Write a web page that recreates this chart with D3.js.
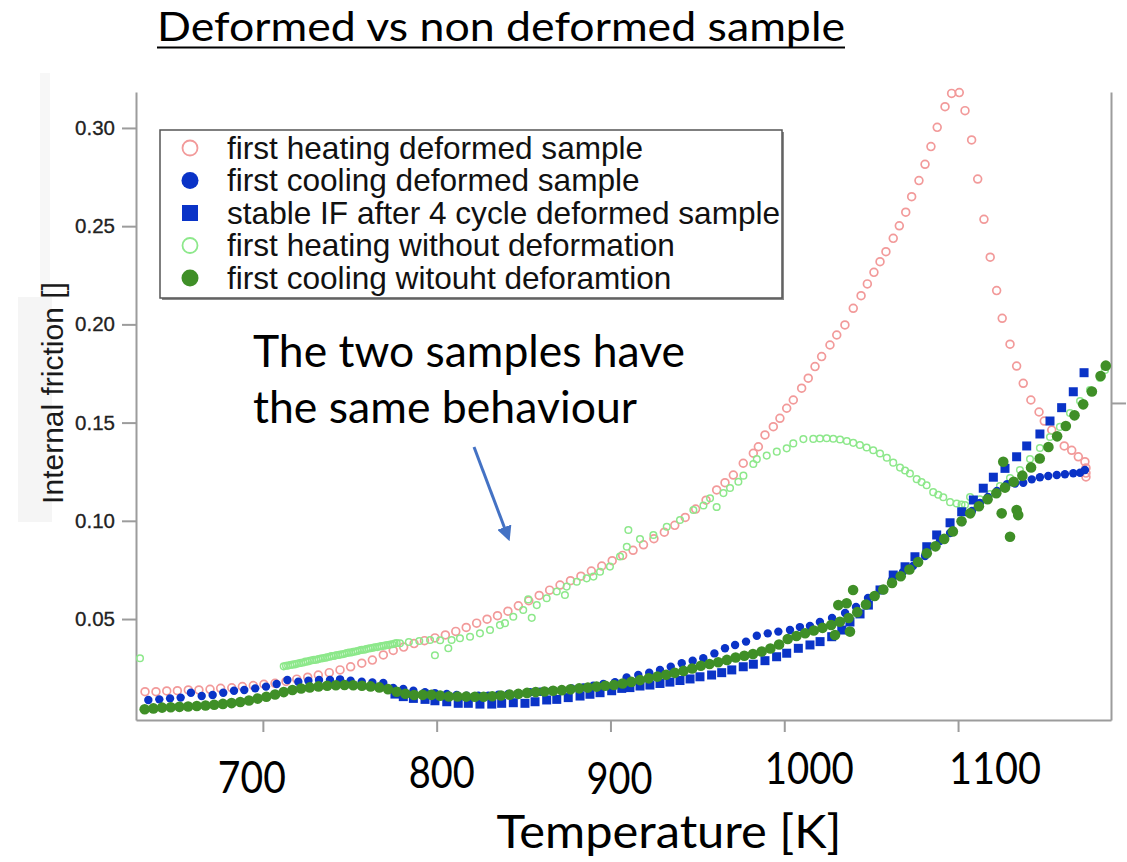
<!DOCTYPE html>
<html><head><meta charset="utf-8">
<script src="https://cdn.jsdelivr.net/npm/d3@7"></script>
<style>body{margin:0;background:#fff}svg{display:block}</style>
</head><body><svg id="c" width="1127" height="862"></svg>
<script>
// ---------------- data ----------------
const tempTicks = [700, 800, 900, 1000, 1100];
const frictionTicks = [0.05, 0.10, 0.15, 0.20, 0.25, 0.30];
const rightTicks = [0.16];
const legendLabels = [
  "first heating deformed sample",
  "first cooling deformed sample",
  "stable IF after 4 cycle deformed sample",
  "first heating without deformation",
  "first cooling witouht deforamtion"
];

// first heating, deformed sample (open red circles)
const heatDefT = [632.2,638.5,644.7,650.8,657.1,663.2,669.6,675.7,682.1,688.2,694.5,700.6,707.0,713.3,719.5,725.8,731.9,738.2,744.4,750.5,756.9,763.0,769.3,
  775,781,787,793,799,805,811,817,823,829,835,841,847,853,859,865,871,877,883,889,895,901,907,913,919,925,931,937,943,949,955,
  961.1,965.9,970.7,976.4,982.2,985.1,988.9,993.7,997.5,1001.4,1005.2,1010.0,1013.8,1017.7,1021.5,1026.3,1030.2,1034.9,1039.7,
  1044.2,1047.8,1051.6,1055.1,1058.5,1062.7,1066.2,1069.9,1073.3,1077.5,1081.0,1084.4,1088.0,1092.5,1096.3,1100.7,
  1104.0,1107.8,1111.3,1114.9,1118.5,1122.2,1125.4,1129.9,1133.7,1137.5,1141.9,1146.6,1149.6,1153.9,1161.1,1165.4,1169.2,1173.0,1173.6,1173.6,1173.6];
const heatDefIF = [0.0130,0.0130,0.0134,0.0135,0.0139,0.0139,0.0142,0.0147,0.0150,0.0156,0.0161,0.0168,0.0173,0.0182,0.0194,0.0204,0.0215,0.0227,0.0241,0.0257,0.0275,0.0291,0.0317,
  0.0340,0.0357,0.0375,0.0390,0.0404,0.0419,0.0437,0.0457,0.0479,0.0499,0.0517,0.0540,0.0567,0.0593,0.0620,0.0647,0.0673,0.0695,0.0718,0.0744,0.0770,0.0797,0.0824,0.0850,0.0878,0.0909,0.0942,0.0977,0.1017,0.1060,0.1105,
  0.1157,0.1194,0.1233,0.1293,0.1344,0.1377,0.1437,0.1479,0.1522,0.1573,0.1615,0.1675,0.1726,0.1785,0.1836,0.1895,0.1946,0.1997,0.2082,
  0.2146,0.2206,0.2265,0.2319,0.2370,0.2438,0.2502,0.2571,0.2650,0.2732,0.2815,0.2905,0.3003,0.3108,0.3176,0.3180,
  0.3088,0.2939,0.2740,0.2535,0.2342,0.2172,0.2031,0.1899,0.1788,0.1700,0.1615,0.1554,0.1508,0.1462,0.1381,0.1359,0.1326,0.1301,0.1269,0.1243,0.1223];

// first cooling, deformed sample (filled blue circles)
const coolDefT = [634.1,640.4,646.6,652.7,658.6,664.8,671.1,677.2,683.4,689.3,695.6,701.8,707.9,714.1,720.4,726.2,732.3,738.6,744.4,750.5,756.9,763.0,769.3,
  775.0,780.8,786.6,793.3,799.0,805.8,811.5,817.3,824.0,829.7,835.5,841.2,847.0,853.7,859.5,866.2,872.0,877.7,884.4,890.1,895.9,902.6,909.3,
  916.0,922.3,928.5,934.7,941.0,947.3,953.4,959.8,965.9,971.7,978.0,984.2,990.5,996.6,
  1003.3,1009.0,1014.8,1020.5,1027.5,1035.0,1041.3,1048.2,1055.1,1062.0,1068.3,1074.1,1081.0,1089.6,1095.4,1102.3,1108.0,1112.6,1117.2,1122.4,1128.2,1132.8,1137.5,1142.4,1147.1,1151.9,1156.8,1161.5,1166.3,1170.2,1173.0];
const coolDefIF = [0.0088,0.0091,0.0096,0.0100,0.0125,0.0108,0.0113,0.0125,0.0135,0.0139,0.0147,0.0156,0.0169,0.0190,0.0181,0.0186,0.0190,0.0190,0.0193,0.0186,0.0181,0.0177,0.0174,
  0.0149,0.0144,0.0135,0.0127,0.0123,0.0118,0.0113,0.0110,0.0110,0.0110,0.0115,0.0118,0.0122,0.0127,0.0130,0.0135,0.0140,0.0147,0.0152,0.0160,0.0169,0.0178,0.0202,
  0.0215,0.0227,0.0241,0.0257,0.0275,0.0288,0.0300,0.0325,0.0351,0.0368,0.0385,0.0415,0.0427,0.0436,
  0.0444,0.0459,0.0465,0.0485,0.0505,0.0531,0.0561,0.0607,0.0648,0.0699,0.0739,0.0770,0.0821,0.0897,0.0938,0.0994,0.1050,0.1091,0.1121,0.1152,0.1187,0.1190,0.1194,0.1211,0.1222,0.1228,0.1233,0.1237,0.1242,0.1245,0.1259];

// stable IF after 4 cycles, deformed sample (blue squares)
const stableT = [776.0,780.8,786.6,793.3,799.0,805.8,812.4,818.2,824.9,831.7,837.4,844.1,850.8,856.6,863.3,869.1,875.7,882.5,888.2,894.0,900.7,906.5,911.2,917.0,922.7,928.5,934.2,940.0,945.8,951.5,958.2,964.0,969.8,976.4,982.2,988.9,995.6,1001.4,1008.1,1014.8,1020.6,1027.3,1033.1,1037.8,1043.6,1048.4,1055.1,1062.7,1069.5,1075.2,1082.0,1087.7,1095.4,1102.1,1108.8,1114.5,1120.3,1127.0,1133.7,1139.5,1147.1,1152.9,1159.6,1166.3,1172.5];
const stableIF = [0.0118,0.0105,0.0096,0.0091,0.0084,0.0079,0.0071,0.0071,0.0067,0.0067,0.0071,0.0074,0.0071,0.0079,0.0088,0.0091,0.0100,0.0108,0.0117,0.0125,0.0135,0.0147,0.0151,0.0159,0.0164,0.0172,0.0179,0.0187,0.0195,0.0206,0.0215,0.0227,0.0241,0.0257,0.0270,0.0288,0.0308,0.0326,0.0351,0.0368,0.0385,0.0410,0.0444,0.0485,0.0526,0.0571,0.0648,0.0724,0.0766,0.0817,0.0868,0.0928,0.0990,0.1046,0.1106,0.1166,0.1222,0.1267,0.1326,0.1381,0.1442,0.1508,0.1576,0.1657,0.1754];

// first heating without deformation (open light green circles)
const heatRefT = [629.3,
  712.0,713.3,714.5,715.8,717.0,718.3,719.5,720.8,722.0,723.3,724.5,725.8,727.0,728.3,729.5,730.8,732.0,733.3,734.5,735.8,737.0,738.3,739.5,740.8,742.0,743.3,744.5,745.8,747.0,748.3,749.5,750.8,752.0,753.3,754.5,755.8,757.0,758.3,759.5,760.8,762.0,763.3,764.5,765.8,767.0,768.3,769.5,770.8,772.0,773.3,774.5,775.8,777.0,
  778.9,784,790,796.2,799.0,802,806.7,808.6,813.4,819.2,824.9,830.7,836.4,839.3,844.1,849.8,852.7,854.7,857.6,863.3,869.1,873.8,874.8,880.6,886.3,890.2,894.0,899.7,905.5,909.4,910.3,
  917.0,924.7,932.4,940.0,947.7,953.5,957.3,961.1,965.0,968.8,973.6,976.5,982.2,984.2,989.9,995.7,1001.4,1005.2,1011.0,1016.7,1020.5,1024.4,1028.2,1032.1,1036.0,1039.7,1043.5,1047.4,1051.2,1055.1,1059.0,1062.7,1066.6,1069.5,1072.3,1076.2,1079.0,1081.9,1085.7,1088.6,1091.5,1095.4,1099.2,1102.0,1104.0,
  1106.9,1112.6,1118.4,1124.1,1129.9,1135.6,1141.4,1147.1,1152.9,1158.6,1164.4,1170.2,1175.9,1181.7,1184.6];
const heatRefIF = [0.0300,
  0.0259,0.0262,0.0263,0.0266,0.0268,0.0269,0.0272,0.0275,0.0277,0.0279,0.0283,0.0284,0.0287,0.0290,0.0292,0.0293,0.0296,0.0299,0.0300,0.0303,0.0305,0.0308,0.0311,0.0312,0.0315,0.0317,0.0319,0.0321,0.0323,0.0327,0.0329,0.0330,0.0333,0.0335,0.0337,0.0341,0.0343,0.0344,0.0347,0.0350,0.0351,0.0354,0.0356,0.0357,0.0360,0.0362,0.0364,0.0366,0.0368,0.0370,0.0372,0.0375,0.0378,
  0.0377,0.0383,0.0388,0.0393,0.0316,0.0392,0.0351,0.0393,0.0402,0.0410,0.0427,0.0444,0.0469,0.0479,0.0512,0.0546,0.0600,0.0506,0.0571,0.0606,0.0640,0.0622,0.0665,0.0690,0.0707,0.0716,0.0741,0.0767,0.0818,0.0868,0.0953,
  0.0907,0.0928,0.0970,0.1004,0.1055,0.1078,0.1115,0.1070,0.1141,0.1167,0.1199,0.1230,0.1289,0.1314,0.1332,0.1352,0.1369,0.1394,0.1416,0.1417,0.1419,0.1420,0.1418,0.1414,0.1406,0.1397,0.1386,0.1373,0.1359,0.1343,0.1321,0.1296,0.1271,0.1256,0.1241,0.1212,0.1197,0.1181,0.1146,0.1133,0.1120,0.1095,0.1088,0.1083,0.1080,
  0.1121,0.1109,0.1136,0.1177,0.1218,0.1259,0.1315,0.1371,0.1427,0.1478,0.1549,0.1610,0.1666,0.1727,0.1768];

// first cooling without deformation (filled dark green circles)
const coolRefT = [632,637,642,647,652,657,662,667,672,677,682,687,692,697,702,707,712,717,722,727,732,737,742,747,752,757,762,767,772,777,782,787,792,797,802,807,812,817,822,827,832,837,842,847,852,857,862,867,872,877,882,887,892,897,902,907,912,917,922,927,932,937,942,947,952,957,962,967,972,977,982,987,992,997,1002,1007,1012,1017,1022,1027,1032,1037,1042,1047,1052,1057,1062,1067,1072,1077,1082,1087,1092,1097,1102,1107,1112,1117,1122,1127,1132,1137,1142,1147,1152,1157,1162,1167,1172,1177,1182,1185,
  1029.2,1031.1,1035.9,1037.8,1039.6,1125.1,1126.0,1129.9,1133.7,1134.6];
const coolRefIF = [0.0041,0.0045,0.0049,0.0051,0.0053,0.0055,0.0057,0.0060,0.0064,0.0068,0.0072,0.0078,0.0085,0.0095,0.0104,0.0116,0.0128,0.0139,0.0146,0.0152,0.0157,0.0160,0.0163,0.0164,0.0163,0.0160,0.0157,0.0152,0.0143,0.0130,0.0120,0.0113,0.0114,0.0114,0.0110,0.0106,0.0106,0.0105,0.0104,0.0104,0.0107,0.0111,0.0115,0.0119,0.0124,0.0128,0.0131,0.0135,0.0138,0.0142,0.0147,0.0151,0.0156,0.0160,0.0164,0.0172,0.0180,0.0189,0.0198,0.0207,0.0216,0.0226,0.0236,0.0248,0.0262,0.0271,0.0280,0.0292,0.0304,0.0313,0.0322,0.0335,0.0350,0.0370,0.0398,0.0414,0.0428,0.0442,0.0455,0.0470,0.0486,0.0505,0.0535,0.0574,0.0617,0.0650,0.0684,0.0718,0.0752,0.0790,0.0835,0.0870,0.0908,0.0946,0.0998,0.1038,0.1074,0.1110,0.1140,0.1169,0.1199,0.1230,0.1272,0.1317,0.1376,0.1430,0.1483,0.1537,0.1593,0.1658,0.1737,0.1790,
  0.0419,0.0571,0.0580,0.0436,0.0648,0.1038,0.1301,0.0919,0.1055,0.1029];

// ---------------- chart ----------------
const svg = d3.select('#c');
const x = d3.scaleLinear().domain([627, 1188]).range([136, 1111]);
const y = d3.scaleLinear().domain([-0.0014, 0.3183]).range([720, 92]);
const zip = (a, b) => a.map((t, i) => [t, b[i]]);

const colors = {red: '#f29a9a', blue: '#0a33c7', light: '#8de88b', dark: '#3f8f27'};

// faint label backgrounds
svg.append('rect').attr('x', 40).attr('y', 73).attr('width', 10).attr('height', 225).attr('fill', '#f7f7f7');
svg.append('rect').attr('x', 18).attr('y', 297).attr('width', 34).attr('height', 225).attr('fill', '#f5f5f5');

// axes
const axisColor = '#9c9c9c';
const gx = svg.append('g').attr('transform', 'translate(0,720)')
  .call(d3.axisBottom(x).tickValues(tempTicks).tickSize(12).tickSizeOuter(0).tickFormat(''));
const gy = svg.append('g').attr('transform', 'translate(136,0)')
  .call(d3.axisLeft(y).tickValues(frictionTicks).tickSize(14).tickPadding(7).tickSizeOuter(0).tickFormat(d3.format('.2f')));
const gr = svg.append('g').attr('transform', 'translate(1111,0)')
  .call(d3.axisRight(y).tickValues(rightTicks).tickSize(15).tickSizeOuter(0).tickFormat(''));
[gx, gy, gr].forEach(g => {
  g.select('.domain').attr('stroke', axisColor).attr('stroke-width', 2);
  g.selectAll('.tick line').attr('stroke', axisColor).attr('stroke-width', 2);
});
gy.selectAll('.tick text').attr('font-family', 'Liberation Sans, Arial, sans-serif')
  .attr('font-size', 20.5).attr('fill', '#222').attr('stroke', '#222').attr('stroke-width', 0.3);

// x tick labels (placed as in the slide overlay)
const xLabelDx = [-11, 5, 9, 25, 37];
const xLabelY = [793, 788, 794, 784, 784];
const xLabelW = [68, 66, 66, 89, 92];
svg.append('g').selectAll('text').data(tempTicks).join('text')
  .attr('x', (d, i) => x(d) + xLabelDx[i]).attr('y', (d, i) => xLabelY[i])
  .attr('text-anchor', 'middle').attr('font-family', 'Lato, sans-serif').attr('font-size', 44)
  .attr('textLength', (d, i) => xLabelW[i]).attr('lengthAdjust', 'spacingAndGlyphs')
  .text(d => d);

// axis titles
svg.append('text').attr('x', 669).attr('y', 848).attr('text-anchor', 'middle')
  .attr('font-family', 'Lato, sans-serif').attr('font-size', 46)
  .attr('textLength', 345).attr('lengthAdjust', 'spacingAndGlyphs').text('Temperature [K]');
svg.append('text').attr('transform', 'translate(63,393) rotate(-90)').attr('text-anchor', 'middle')
  .attr('font-family', 'Liberation Sans, Arial, sans-serif').attr('font-size', 30).attr('fill', '#1a1a1a')
  .text('Internal friction []');

// title
svg.append('text').attr('x', 157).attr('y', 41)
  .attr('font-family', 'Lato, sans-serif').attr('font-size', 41)
  .attr('textLength', 688).attr('lengthAdjust', 'spacingAndGlyphs').text('Deformed vs non deformed sample');
svg.append('line').attr('x1', 157).attr('x2', 845).attr('y1', 47.5).attr('y2', 47.5)
  .attr('stroke', '#000').attr('stroke-width', 2);

// data marks
const plot = svg.append('g');
plot.append('g').selectAll('circle').data(zip(heatDefT, heatDefIF)).join('circle')
  .attr('cx', d => x(d[0])).attr('cy', d => y(d[1])).attr('r', 3.9)
  .attr('fill', 'none').attr('stroke', colors.red).attr('stroke-width', 1.7);
plot.append('g').selectAll('circle').data(zip(heatRefT, heatRefIF)).join('circle')
  .attr('cx', d => x(d[0])).attr('cy', d => y(d[1])).attr('r', 3.3)
  .attr('fill', 'none').attr('stroke', colors.light).attr('stroke-width', 1.5);
plot.append('g').selectAll('circle').data(zip(coolDefT, coolDefIF)).join('circle')
  .attr('cx', d => x(d[0])).attr('cy', d => y(d[1])).attr('r', 4.2)
  .attr('fill', colors.blue);
plot.append('g').selectAll('rect').data(zip(stableT, stableIF)).join('rect')
  .attr('x', d => x(d[0]) - 4.5).attr('y', d => y(d[1]) - 4.5).attr('width', 9).attr('height', 9)
  .attr('fill', colors.blue);
plot.append('g').selectAll('circle').data(zip(coolRefT, coolRefIF)).join('circle')
  .attr('cx', d => x(d[0])).attr('cy', d => y(d[1])).attr('r', 5.3)
  .attr('fill', colors.dark);

// legend
const lg = svg.append('g');
lg.append('rect').attr('x', 162).attr('y', 132).attr('width', 622).attr('height', 168).attr('fill', '#8a8a8a');
lg.append('rect').attr('x', 160).attr('y', 130).attr('width', 622).attr('height', 168)
  .attr('fill', '#fff').attr('stroke', '#555').attr('stroke-width', 1.5);
const rowY = i => 148 + i * 32.5;
const mk = lg.selectAll('g.row').data(legendLabels).join('g').attr('class', 'row');
mk.filter((d, i) => i === 0).append('circle').attr('cx', 190).attr('cy', rowY(0)).attr('r', 7.5)
  .attr('fill', 'none').attr('stroke', colors.red).attr('stroke-width', 1.8);
mk.filter((d, i) => i === 1).append('circle').attr('cx', 190).attr('cy', rowY(1)).attr('r', 8.5).attr('fill', colors.blue);
mk.filter((d, i) => i === 2).append('rect').attr('x', 182).attr('y', rowY(2) - 8).attr('width', 16).attr('height', 16).attr('fill', colors.blue);
mk.filter((d, i) => i === 3).append('circle').attr('cx', 190).attr('cy', rowY(3)).attr('r', 7.5)
  .attr('fill', 'none').attr('stroke', colors.light).attr('stroke-width', 1.8);
mk.filter((d, i) => i === 4).append('circle').attr('cx', 190).attr('cy', rowY(4)).attr('r', 8.5).attr('fill', colors.dark);
mk.append('text').attr('x', 227).attr('y', (d, i) => rowY(i) + 10.5)
  .attr('font-family', 'Liberation Sans, Arial, sans-serif').attr('font-size', 31.6).attr('fill', '#111')
  .text(d => d);

// annotation
const ann = ['The two samples have', 'the same behaviour'];
const annW = [432, 384];
svg.append('g').selectAll('text').data(ann).join('text')
  .attr('x', 253).attr('y', (d, i) => 367 + i * 56)
  .attr('font-family', 'Lato, sans-serif').attr('font-size', 44)
  .attr('textLength', (d, i) => annW[i]).attr('lengthAdjust', 'spacingAndGlyphs').text(d => d);

// arrow
const defs = svg.append('defs');
defs.append('marker').attr('id', 'ah').attr('viewBox', '0 0 10 10').attr('refX', 7).attr('refY', 5)
  .attr('markerWidth', 5).attr('markerHeight', 5).attr('orient', 'auto')
  .append('path').attr('d', 'M0,0L10,5L0,10z').attr('fill', '#4472c4');
svg.append('line').attr('x1', 474).attr('y1', 447).attr('x2', 508).attr('y2', 537)
  .attr('stroke', '#4472c4').attr('stroke-width', 3).attr('marker-end', 'url(#ah)');
</script></body></html>
